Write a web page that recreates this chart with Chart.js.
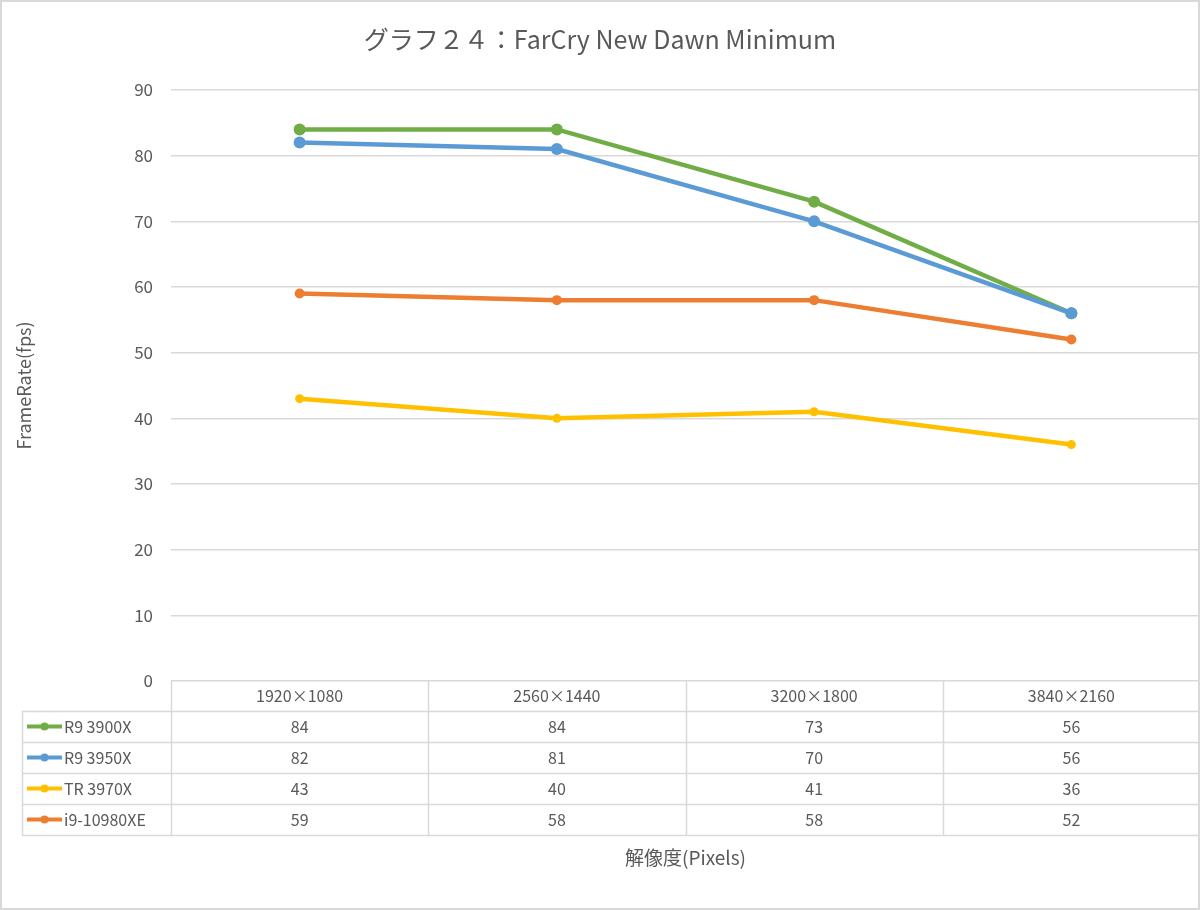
<!DOCTYPE html>
<html>
<head>
<meta charset="utf-8">
<script src="https://cdn.jsdelivr.net/npm/chart.js@4"></script>
<style>
  body { margin: 0; background: #fff; }
  canvas { display: block; }
</style>
</head>
<body>
<canvas id="myChart" width="1200" height="910"></canvas>
<script>
const FONT = '"Noto Sans CJK JP", "Noto Sans", sans-serif';
const TEXT = '#595959';
const GRID = '#d9d9d9';

const categories = ['1920×1080', '2560×1440', '3200×1800', '3840×2160'];
const seriesNames = ['R9 3900X', 'R9 3950X', 'TR 3970X', 'i9-10980XE'];
const valuesR9_3900X = [84, 84, 73, 56];
const valuesR9_3950X = [82, 81, 70, 56];
const valuesTR_3970X = [43, 40, 41, 36];
const valuesI9_10980XE = [59, 58, 58, 52];
const seriesColors = ['#70AD47', '#5B9BD5', '#FFC000', '#ED7D31'];
const pointSizes = [6, 6, 4.5, 5];

// データテーブル（Excel風）をグラフの下に描く
const dataTable = {
    id: 'dataTable',
    beforeDraw(chart) {
        const ctx = chart.ctx;
        ctx.save();
        ctx.fillStyle = '#fff';
        ctx.fillRect(0, 0, chart.width, chart.height);
        ctx.restore();
    },
    afterDraw(chart) {
        const ctx = chart.ctx;
        const x = chart.scales.x;
        const area = chart.chartArea;
        const step = x.getPixelForValue(1) - x.getPixelForValue(0);
        const top = area.bottom;
        const headH = 30;
        const rowH = 31;
        const left = 22;
        const nRows = chart.data.datasets.length;
        const bottom = top + headH + rowH * nRows;

        ctx.save();
        ctx.strokeStyle = GRID;
        ctx.lineWidth = 1.5;
        ctx.beginPath();
        // 縦線
        for (let i = 0; i <= categories.length; i++) {
            const px = Math.round(x.getPixelForValue(i) - step / 2) + 0.5;
            ctx.moveTo(px, top);
            ctx.lineTo(px, bottom);
        }
        ctx.moveTo(left + 0.5, top + headH);
        ctx.lineTo(left + 0.5, bottom);
        // 横線
        for (let r = 0; r <= nRows; r++) {
            const py = Math.round(top + headH + r * rowH) + 0.5;
            ctx.moveTo(left, py);
            ctx.lineTo(area.right, py);
        }
        ctx.stroke();

        ctx.font = '16px ' + FONT;
        ctx.fillStyle = TEXT;
        ctx.textAlign = 'center';
        ctx.textBaseline = 'middle';
        categories.forEach((c, i) => {
            ctx.fillText(c, x.getPixelForValue(i), top + headH / 2);
        });
        chart.data.datasets.forEach((ds, r) => {
            const cy = top + headH + r * rowH + rowH / 2;
            ds.data.forEach((v, i) => {
                ctx.fillStyle = TEXT;
                ctx.textAlign = 'center';
                ctx.fillText(String(v), x.getPixelForValue(i), cy);
            });
            // 凡例キー
            ctx.strokeStyle = ds.borderColor;
            ctx.lineWidth = 4;
            ctx.beginPath();
            ctx.moveTo(27, cy);
            ctx.lineTo(62, cy);
            ctx.stroke();
            ctx.fillStyle = ds.borderColor;
            ctx.beginPath();
            ctx.arc(44.5, cy, 4, 0, Math.PI * 2);
            ctx.fill();
            ctx.fillStyle = TEXT;
            ctx.textAlign = 'left';
            ctx.fillText(ds.label, 64, cy);
        });

        // 外枠
        ctx.strokeStyle = GRID;
        ctx.lineWidth = 2;
        ctx.strokeRect(1, 1, chart.width - 2, chart.height - 2);
        ctx.restore();
    }
};

function makeSet(i, data) {
    return {
        label: seriesNames[i],
        data: data,
        borderColor: seriesColors[i],
        backgroundColor: seriesColors[i],
        borderWidth: 4.5,
        pointRadius: pointSizes[i],
        pointBorderWidth: 0,
        tension: 0,
        order: 4 - i
    };
}

const ctx = document.getElementById('myChart');
const chart = new Chart(ctx, {
    type: 'line',
    data: {
        labels: categories,
        datasets: [
            makeSet(0, valuesR9_3900X),
            makeSet(1, valuesR9_3950X),
            makeSet(2, valuesTR_3970X),
            makeSet(3, valuesI9_10980XE)
        ]
    },
    options: {
        responsive: false,
        animation: false,
        devicePixelRatio: 1,
        layout: { autoPadding: false, padding: 0 },
        plugins: {
            legend: { display: false },
            tooltip: { enabled: false },
            title: {
                display: true,
                text: 'グラフ２４：FarCry New Dawn Minimum',
                color: TEXT,
                font: { family: FONT, size: 25, weight: 'normal' },
                padding: { top: 24, bottom: 36 }
            }
        },
        scales: {
            x: {
                offset: true,
                grid: { display: false },
                border: { display: false },
                ticks: { display: false },
                title: {
                    display: true,
                    text: '解像度(Pixels)',
                    color: TEXT,
                    font: { family: FONT, size: 19 },
                    padding: { top: 0, bottom: 41 }
                },
                afterFit(scale) { scale.height = 229; }
            },
            y: {
                min: 0,
                max: 90,
                border: { display: false },
                grid: { color: GRID, lineWidth: 1.5, drawTicks: false },
                ticks: {
                    stepSize: 10,
                    padding: 18,
                    color: TEXT,
                    font: { family: FONT, size: 17 }
                },
                title: {
                    display: true,
                    text: 'FrameRate(fps)',
                    color: TEXT,
                    font: { family: FONT, size: 18 },
                    padding: { top: 13, bottom: 0 }
                },
                afterFit(scale) { scale.width = 171; }
            }
        }
    },
    plugins: [dataTable]
});
</script>
</body>
</html>
